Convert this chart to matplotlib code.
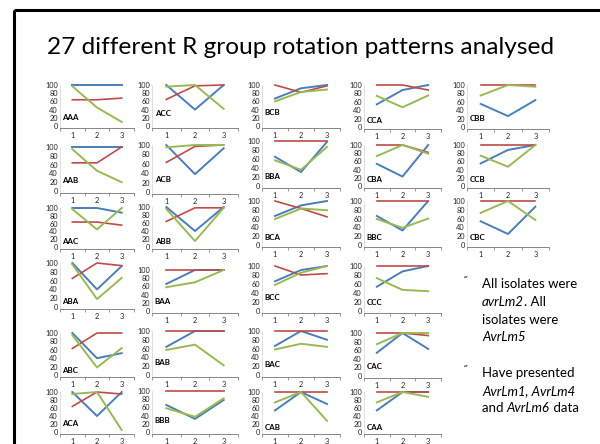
import matplotlib.pyplot as plt
from matplotlib.patches import Rectangle

plt.rcParams['font.family'] = ['Lato', 'DejaVu Sans']

W, H = 600, 444

# nazwy wzorców rotacji (kolejność: wiersz po wierszu)
names = ['AAA', 'ACC', 'BCB', 'CCA', 'CBB',
         'AAB', 'ACB', 'BBA', 'CBA', 'CCB',
         'AAC', 'ABB', 'BCA', 'BBC', 'CBC',
         'ABA', 'BAA', 'BCC', 'CCC',
         'ABC', 'BAB', 'BAC', 'CAC',
         'ACA', 'BBB', 'CAB', 'CAA']

# wartości w punktach 1, 2, 3
blue = [[100, 100, 100], [100, 40, 100], [67, 92, 100], [54, 88, 100], [55, 26, 64],
        [100, 100, 100], [100, 38, 93], [65, 31, 98], [54, 23, 100], [55, 88, 100],
        [100, 100, 88], [100, 40, 100], [66, 90, 100], [66, 33, 100], [54, 25, 87],
        [100, 40, 93], [66, 100, 100], [66, 91, 100], [54, 88, 100],
        [100, 40, 52], [64, 100, 100], [66, 100, 80], [54, 100, 63],
        [100, 40, 100], [66, 32, 78], [54, 100, 70], [54, 100, 100]]
red = [[64, 64, 68], [65, 98, 100], [100, 82, 98], [100, 100, 88], [100, 100, 100],
       [64, 64, 100], [63, 97, 100], [100, 100, 100], [100, 100, 82], [100, 100, 100],
       [64, 64, 56], [64, 98, 98], [100, 83, 64], [100, 100, 100], [100, 100, 100],
       [65, 100, 94], [100, 100, 100], [100, 80, 83], [100, 100, 100],
       [63, 100, 100], [100, 100, 100], [100, 100, 100], [100, 100, 94],
       [64, 100, 95], [100, 100, 100], [100, 100, 100], [100, 100, 100]]
green = [[97, 45, 10], [96, 100, 42], [60, 83, 89], [74, 47, 75], [75, 100, 96],
         [95, 46, 20], [95, 100, 100], [57, 36, 87], [73, 100, 79], [74, 47, 100],
         [97, 45, 100], [95, 15, 98], [59, 83, 79], [59, 39, 60], [73, 100, 57],
         [97, 18, 66], [58, 70, 100], [58, 85, 100], [73, 47, 44],
         [95, 18, 64], [57, 69, 22], [58, 71, 64], [74, 100, 100],
         [95, 100, 5], [58, 37, 82], [74, 100, 28], [74, 100, 88]]
x_labels = ['1', '2', '3']

# układ: kolumna, piksel dla 100 i dla 0, wysokość podpisu
cols = [0, 1, 2, 3, 4, 0, 1, 2, 3, 4, 0, 1, 2, 3, 4, 0, 1, 2, 3, 0, 1, 2, 3, 0, 1, 2, 3]
y_top = [85, 85, 85, 85, 85, 147, 145, 141, 145, 145, 208, 207, 201, 201, 201,
         263, 270, 266, 266, 333, 331, 331, 333, 392, 391, 392, 392]
y_zero = [126, 126, 126, 127, 127, 191, 192, 186, 186, 186, 247, 247, 245, 245, 245,
          307, 311, 311, 311, 375, 375, 375, 376, 432, 432, 432, 432]
name_y = [20, 30, 32, 15, 20, 25, 26, 22, 15, 15, 15, 15, 18, 16, 18,
          12, 22, 29, 20, 10, 28, 23, 23, 22, 27, 12, 12]
col_left = [60, 152, 262, 364, 467]
col_right = [134, 238, 340, 441, 549]

fig = plt.figure(figsize=(W / 100, H / 100), dpi=100)
bg = fig.add_axes([0, 0, 1, 1])
bg.set_xlim(0, W)
bg.set_ylim(H, 0)
bg.axis('off')

# ramka slajdu
bg.add_patch(Rectangle((14, 10.5), 700, 600, fill=False, lw=2.2, ec='black'))

bg.text(301, 48, '27 different R group rotation patterns analysed',
        fontsize=17.6, ha='center', va='center', color='black')

# małe wykresy
for i, name in enumerate(names):
    L = col_left[cols[i]]
    R = col_right[cols[i]]
    top = y_top[i]
    zero = y_zero[i]
    bottom = zero + 2
    ax = fig.add_axes([L / W, 1 - bottom / H, (R - L) / W, (bottom - top) / H])
    xs = [1, 2, 3]
    ax.plot(xs, blue[i], color='#4A7EBB', lw=1.4, clip_on=False)
    ax.plot(xs, red[i], color='#BE4B48', lw=1.2, clip_on=False)
    ax.plot(xs, green[i], color='#98B954', lw=1.4, clip_on=False)
    ax.set_xlim(0.5, 3.5)
    ax.set_ylim(-2 * 100 / (zero - top), 100)
    ax.set_yticks([0, 20, 40, 60, 80, 100])
    ax.set_xticks(xs)
    ax.set_xticklabels(x_labels)
    ax.set_xticks([0.5, 1.5, 2.5, 3.5], minor=True)
    ax.tick_params(axis='x', which='major', length=0, labelsize=5.3, pad=3, labelcolor='#222222')
    ax.tick_params(axis='x', which='minor', length=2.5, width=0.6, color='#868686', direction='out')
    ax.tick_params(axis='y', length=0, labelsize=5.3, pad=1.5, labelcolor='#222222')
    for s in ['top', 'right']:
        ax.spines[s].set_visible(False)
    ax.spines['left'].set_color('#D9D9D9')
    ax.spines['left'].set_linewidth(0.6)
    ax.spines['bottom'].set_color('#868686')
    ax.spines['bottom'].set_linewidth(0.7)
    ax.patch.set_visible(False)
    ax.text(0.6, name_y[i], name, fontsize=5.7, fontweight='bold', va='center', ha='left')

# tekst po prawej, fragmenty kursywą
renderer = fig.canvas.get_renderer()


def rich_line(x, y, parts, size=9.5):
    for txt, style in parts:
        t = bg.text(x, y, txt, fontsize=size, style=style, va='center', ha='left')
        bb = t.get_window_extent(renderer)
        x = bg.transData.inverted().transform((bb.x1, bb.y0))[0]


bg.text(463, 281, '˝', fontsize=8, va='center', ha='left')
rich_line(482, 284, [('All isolates were', 'normal')])
rich_line(482, 302, [('avrLm2', 'italic'), ('. All', 'normal')])
rich_line(482, 320, [('isolates were', 'normal')])
rich_line(482, 337, [('AvrLm5', 'italic')])

bg.text(463, 370, '˝', fontsize=8, va='center', ha='left')
rich_line(482, 373, [('Have presented', 'normal')])
rich_line(482, 391, [('AvrLm1, AvrLm4', 'italic')])
rich_line(482, 408, [('and ', 'normal'), ('AvrLm6', 'italic'), (' data', 'normal')])

fig.savefig('out.png', dpi=100)
